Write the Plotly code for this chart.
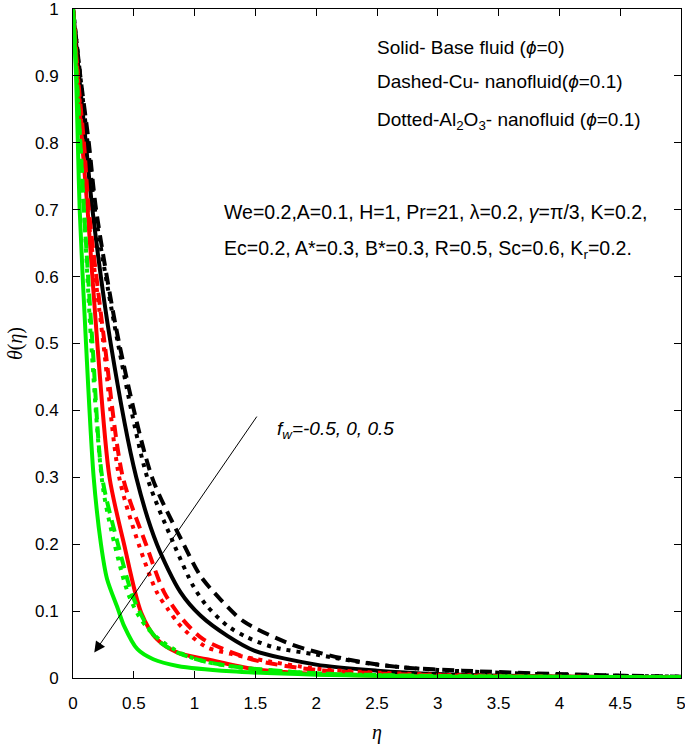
import plotly.graph_objects as go

# ---- data ----
# fw = -0.5 (black), 0 (red), 0.5 (green); solid = base fluid, dashed = Cu, dotted = Al2O3
bk_dash_eta = [0, 0.06, 0.13, 0.19, 0.38, 0.65, 0.91, 1.05, 1.21, 1.40, 1.8, 2.25, 2.7, 3.2, 3.8, 4.4, 5]
bk_dash_th = [1, 0.9, 0.8, 0.7, 0.5, 0.3, 0.2, 0.152, 0.118, 0.085, 0.05, 0.028, 0.016, 0.011, 0.007, 0.004, 0.002]

bk_dot_eta = [0, 0.06, 0.12, 0.18, 0.37, 0.61, 0.83, 0.99, 1.1, 1.27, 1.43, 1.65, 2.0, 2.5, 3.0, 3.5, 4.0, 5]
bk_dot_th = [1, 0.9, 0.8, 0.7, 0.5, 0.3, 0.2, 0.137, 0.108, 0.078, 0.061, 0.046, 0.035, 0.02, 0.012, 0.008, 0.005, 0.002]

bk_sol_eta = [0, 0.05, 0.105, 0.16, 0.31, 0.52, 0.69, 0.885, 1.05, 1.27, 1.49, 2.0, 2.5, 3, 4, 5]
bk_sol_th = [1, 0.9, 0.8, 0.7, 0.5, 0.3, 0.2, 0.128, 0.093, 0.063, 0.041, 0.02, 0.011, 0.006, 0.002, 0.001]

rd_dash_eta = [0, 0.04, 0.09, 0.13, 0.26, 0.41, 0.60, 0.75, 0.9, 1.07, 1.31, 1.51, 1.95, 2.5, 3, 4, 5]
rd_dash_th = [1, 0.9, 0.8, 0.7, 0.5, 0.3, 0.2, 0.128, 0.088, 0.058, 0.038, 0.026, 0.013, 0.007, 0.004, 0.002, 0.001]

rd_dot_eta = [0, 0.04, 0.08, 0.12, 0.25, 0.38, 0.54, 0.69, 0.78, 0.86, 0.97, 1.1, 1.3, 1.51, 2, 2.5, 3, 4, 5]
rd_dot_th = [1, 0.9, 0.8, 0.7, 0.5, 0.3, 0.2, 0.128, 0.103, 0.083, 0.063, 0.046, 0.036, 0.028, 0.014, 0.008, 0.005, 0.002, 0.001]

rd_sol_eta = [0, 0.035, 0.075, 0.12, 0.20, 0.30, 0.42, 0.56, 0.69, 0.86, 1.1, 1.5, 2, 3, 5]
rd_sol_th = [1, 0.9, 0.8, 0.7, 0.5, 0.3, 0.2, 0.098, 0.058, 0.038, 0.028, 0.013, 0.006, 0.002, 0.0005]

gr_dash_eta = [0, 0.03, 0.06, 0.09, 0.16, 0.24, 0.37, 0.49, 0.61, 0.72, 0.885, 1.1, 1.37, 2, 3, 5]
gr_dash_th = [1, 0.9, 0.8, 0.7, 0.5, 0.3, 0.2, 0.123, 0.078, 0.053, 0.036, 0.024, 0.016, 0.007, 0.003, 0.001]

gr_dot_eta = [0, 0.03, 0.06, 0.09, 0.15, 0.25, 0.39, 0.46, 0.54, 0.62, 0.72, 0.9, 1.1, 1.4, 2, 3, 5]
gr_dot_th = [1, 0.9, 0.8, 0.7, 0.5, 0.28, 0.165, 0.123, 0.093, 0.073, 0.056, 0.036, 0.024, 0.015, 0.007, 0.003, 0.001]

gr_sol_eta = [0, 0.025, 0.04, 0.055, 0.107, 0.17, 0.23, 0.28, 0.37, 0.42, 0.53, 0.66, 0.86, 1.3, 2, 3, 5]
gr_sol_th = [1, 0.9, 0.8, 0.7, 0.5, 0.3, 0.2, 0.148, 0.103, 0.078, 0.043, 0.028, 0.018, 0.01, 0.005, 0.002, 0.001]

x_ticks = [0, 0.5, 1, 1.5, 2, 2.5, 3, 3.5, 4, 4.5, 5]
x_tick_labels = ["0", "0.5", "1", "1.5", "2", "2.5", "3", "3.5", "4", "4.5", "5"]
y_ticks = [0, 0.1, 0.2, 0.3, 0.4, 0.5, 0.6, 0.7, 0.8, 0.9, 1]
y_tick_labels = ["0", "0.1", "0.2", "0.3", "0.4", "0.5", "0.6", "0.7", "0.8", "0.9", "1"]

BLACK, RED, GREEN = "#000000", "#ff0000", "#00f000"
DASH = "12px,7px"
DOT = "4px,6px"

series = [
    (bk_sol_eta, bk_sol_th, BLACK, "solid"),
    (bk_dash_eta, bk_dash_th, BLACK, DASH),
    (bk_dot_eta, bk_dot_th, BLACK, DOT),
    (rd_sol_eta, rd_sol_th, RED, "solid"),
    (rd_dash_eta, rd_dash_th, RED, DASH),
    (rd_dot_eta, rd_dot_th, RED, DOT),
    (gr_sol_eta, gr_sol_th, GREEN, "solid"),
    (gr_dash_eta, gr_dash_th, GREEN, DASH),
    (gr_dot_eta, gr_dot_th, GREEN, DOT),
]

fig = go.Figure()
for xs, ys, col, dash in series:
    fig.add_trace(go.Scatter(
        x=xs, y=ys, mode="lines",
        line=dict(color=col, width=4, dash=dash, shape="spline", smoothing=0.8),
        showlegend=False, hoverinfo="skip", cliponaxis=True))

FONT = "Liberation Sans, Arial"
axis_common = dict(
    showline=True, linecolor="black", linewidth=1, mirror="ticks",
    ticks="inside", ticklen=7, tickwidth=1, tickcolor="black",
    showgrid=False, zeroline=False, automargin=False,
    ticklabeloverflow="allow",
    tickfont=dict(family=FONT, size=17, color="black"),
)

fig.update_xaxes(range=[0, 5], tickvals=x_ticks, ticktext=x_tick_labels,
                 ticklabelstandoff=10,
                 title=dict(text="<i>η</i>", font=dict(family="Liberation Serif", size=20, color="black"),
                            standoff=12),
                 **axis_common)
fig.update_yaxes(range=[0, 1], tickvals=y_ticks, ticktext=y_tick_labels,
                 ticklabelstandoff=10,
                 title=dict(text="<i>θ</i>(<i>η</i>)", font=dict(family="Liberation Serif", size=20, color="black"),
                            standoff=6),
                 **axis_common)

TF = dict(family=FONT, size=19, color="black")
TF2 = dict(family=FONT, size=19.5, color="black")
ann = [
    dict(text="Solid- Base fluid (<i>ϕ</i>=0)", x=0.497, y=0.943, font=TF),
    dict(text="Dashed-Cu- nanofluid(<i>ϕ</i>=0.1)", x=0.497, y=0.891, font=TF),
    dict(text="Dotted-Al<sub>2</sub>O<sub>3</sub>- nanofluid (<i>ϕ</i>=0.1)", x=0.497, y=0.832, font=TF),
    dict(text="We=0.2,A=0.1, H=1, Pr=21, λ=0.2, <i>γ</i>=π/3, K=0.2,", x=0.245, y=0.697, font=TF2),
    dict(text="Ec=0.2, A*=0.3, B*=0.3, R=0.5, Sc=0.6, K<sub>r</sub>=0.2.", x=0.245, y=0.641, font=TF2),
    dict(text="<i>f<sub>w</sub>=-0.5, 0, 0.5</i>", x=0.332, y=0.370, font=TF),
]
for a in ann:
    fig.add_annotation(xref="paper", yref="paper", xanchor="left", yanchor="middle",
                       showarrow=False, **a)

fig.add_annotation(x=0.175, y=0.038, ax=1.52, ay=0.393, xref="x", yref="y",
                   axref="x", ayref="y", text="", showarrow=True,
                   arrowhead=2, arrowsize=2.2, arrowwidth=1, arrowcolor="black")

fig.update_layout(
    width=685, height=753,
    margin=dict(l=73, r=4, t=9, b=75, autoexpand=False),
    plot_bgcolor="white", paper_bgcolor="white",
)

fig.write_html("out.html", config={"displayModeBar": False},
               post_script="document.body.style.margin='0';document.body.style.overflow='hidden';")
